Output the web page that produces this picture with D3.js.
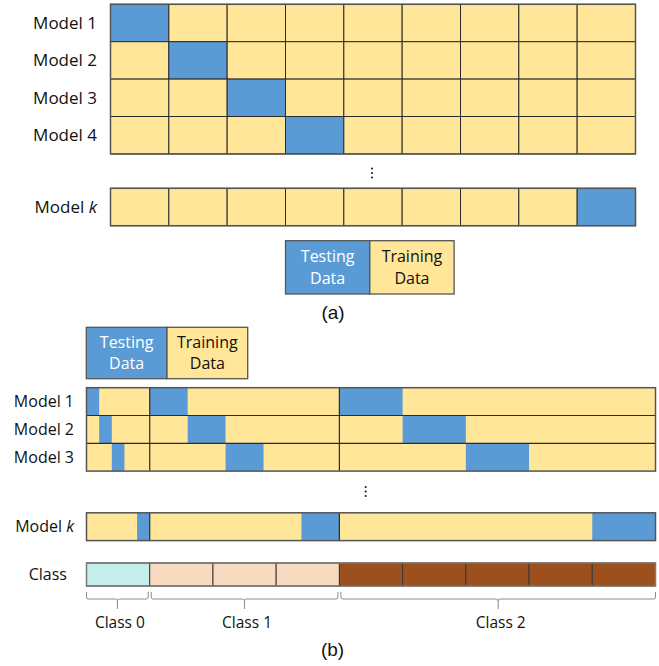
<!DOCTYPE html>
<html>
<head>
<meta charset="utf-8">
<script src="https://cdn.jsdelivr.net/npm/d3@7/dist/d3.min.js"></script>
<style>
  html, body { margin: 0; padding: 0; background: #fff; }
  svg { display: block; }
</style>
</head>
<body>
<svg id="chart" width="659" height="666"></svg>
<script>
// ---- (a) plain k-fold cross-validation ----
const foldsA = d3.range(9);                       // 9 equal folds
const modelsA = ["Model 1", "Model 2", "Model 3", "Model 4", "Model k"];
const testFoldA = [0, 1, 2, 3, 8];                // fold held out by each model

// ---- (b) stratified k-fold cross-validation ----
const classNames = ["Class 0", "Class 1", "Class 2"];
const classSizes = [1, 3, 5];                     // relative size of each class
const foldsPerClass = 5;                          // each class is split into 5 folds
const modelsB = ["Model 1", "Model 2", "Model 3", "Model k"];
const testFoldB = [0, 1, 2, 4];

const legendItems = [
  { name: ["Testing", "Data"], key: "test" },
  { name: ["Training", "Data"], key: "train" }
];

const colors = {
  test: "#5B9BD5",
  train: "#FFE699",
  classes: ["#C6EEEA", "#F8DAC0", "#9E4F1E"]
};
const FONT = "'Open Sans', 'DejaVu Sans', sans-serif";
const gridStroke = "#2b2b2b";
const borderStroke = "#555555";

const svg = d3.select("#chart");

// ================= Part (a) =================
const xA = d3.scaleBand().domain(foldsA).range([110.5, 635.5]).paddingInner(0).paddingOuter(0);
// row slot index -> y; the last model sits after a gap
const rowSlotA = i => (i < modelsA.length - 1 ? i : i + 0.92);
const rowH_A = 37.4;
const yA = d3.scaleLinear().domain([0, 1]).range([4.3, 4.3 + rowH_A]);

const gA = svg.append("g");
modelsA.forEach((m, i) => {
  const y0 = yA(rowSlotA(i));
  const row = gA.append("g");
  row.selectAll("rect")
    .data(foldsA)
    .join("rect")
    .attr("x", d => xA(d))
    .attr("y", y0)
    .attr("width", xA.bandwidth())
    .attr("height", rowH_A)
    .attr("fill", d => (d === testFoldA[i] ? colors.test : colors.train))
    .attr("stroke", gridStroke)
    .attr("stroke-width", 1);
  const label = row.append("text")
    .attr("x", 97)
    .attr("y", y0 + rowH_A / 2)
    .attr("dy", "0.35em")
    .attr("text-anchor", "end")
    .attr("font-family", FONT)
    .attr("font-size", 17)
    .attr("fill", "#111");
  const parts = m.split(" ");
  label.append("tspan").text(parts[0] + " ");
  label.append("tspan").text(parts[1]).attr("font-style", parts[1] === "k" ? "italic" : "normal");
});
// outer borders
gA.append("rect")
  .attr("x", xA.range()[0]).attr("y", yA(0))
  .attr("width", xA.range()[1] - xA.range()[0]).attr("height", rowH_A * 4)
  .attr("fill", "none").attr("stroke", borderStroke).attr("stroke-width", 1.5);
gA.append("rect")
  .attr("x", xA.range()[0]).attr("y", yA(rowSlotA(4)))
  .attr("width", xA.range()[1] - xA.range()[0]).attr("height", rowH_A)
  .attr("fill", "none").attr("stroke", borderStroke).attr("stroke-width", 1.5);

// vertical ellipsis
function ellipsis(g, x, y) {
  [0, 4.5, 9].forEach(dy => {
    g.append("circle").attr("cx", x).attr("cy", y + dy).attr("r", 1.1).attr("fill", "#222");
  });
}
ellipsis(gA, 372, 168.5);

// legend
function legend(g, x0, y0, w, h, fontSize) {
  legendItems.forEach((it, i) => {
    const x = x0 + i * w;
    g.append("rect").attr("x", x).attr("y", y0).attr("width", w).attr("height", h)
      .attr("fill", colors[it.key]).attr("stroke", borderStroke).attr("stroke-width", 1.3);
    it.name.forEach((line, j) => {
      g.append("text")
        .attr("x", x + w / 2)
        .attr("y", y0 + h * (j === 0 ? 0.3 : 0.71))
        .attr("dy", "0.35em")
        .attr("text-anchor", "middle")
        .attr("font-family", FONT)
        .attr("font-size", fontSize)
        .attr("fill", it.key === "test" ? "#ffffff" : "#111")
        .text(line);
    });
  });
}
legend(gA, 285.5, 240.7, 84.3, 53.3, 16);

svg.append("text")
  .attr("x", 333).attr("y", 319)
  .attr("text-anchor", "middle")
  .attr("font-family", "'Liberation Sans', Arial, sans-serif")
  .attr("font-size", 19)
  .attr("fill", "#111")
  .text("(a)");

// ================= Part (b) =================
const gB = svg.append("g");
legend(gB, 86.3, 327.3, 80.7, 51.4, 16);

const totalUnits = d3.sum(classSizes);
const xB = d3.scaleLinear().domain([0, totalUnits]).range([86.5, 655.5]);
const classStart = classSizes.map((s, i) => d3.sum(classSizes.slice(0, i)));
const rowH_B = 27.8;
const rowSlotB = i => (i < modelsB.length - 1 ? i : i + 1.5);
const yB = d3.scaleLinear().domain([0, 1]).range([387.7, 387.7 + rowH_B]);

modelsB.forEach((m, i) => {
  const y0 = yB(rowSlotB(i));
  const row = gB.append("g");
  row.append("rect")
    .attr("x", xB(0)).attr("y", y0)
    .attr("width", xB(totalUnits) - xB(0)).attr("height", rowH_B)
    .attr("fill", colors.train);
  // held-out slice of every class (stratified)
  row.selectAll("rect.test")
    .data(classSizes.map((s, c) => ({
      start: classStart[c] + s * testFoldB[i] / foldsPerClass,
      size: s / foldsPerClass
    })))
    .join("rect")
    .attr("class", "test")
    .attr("x", d => xB(d.start))
    .attr("y", y0)
    .attr("width", d => xB(d.start + d.size) - xB(d.start))
    .attr("height", rowH_B)
    .attr("fill", colors.test);
  // class boundaries
  row.selectAll("line.cb")
    .data(classStart.slice(1))
    .join("line")
    .attr("class", "cb")
    .attr("x1", d => xB(d)).attr("x2", d => xB(d))
    .attr("y1", y0).attr("y2", y0 + rowH_B)
    .attr("stroke", gridStroke).attr("stroke-width", 1.2);
  if (i > 0 && i < modelsB.length - 1) {
    row.append("line")
      .attr("x1", xB(0)).attr("x2", xB(totalUnits))
      .attr("y1", y0).attr("y2", y0)
      .attr("stroke", gridStroke).attr("stroke-width", 1.2);
  }
  const label = row.append("text")
    .attr("x", 74)
    .attr("y", y0 + rowH_B / 2)
    .attr("dy", "0.35em")
    .attr("text-anchor", "end")
    .attr("font-family", FONT)
    .attr("font-size", 16)
    .attr("fill", "#111");
  const parts = m.split(" ");
  label.append("tspan").text(parts[0] + " ");
  label.append("tspan").text(parts[1]).attr("font-style", parts[1] === "k" ? "italic" : "normal");
});
gB.append("rect")
  .attr("x", xB(0)).attr("y", yB(0))
  .attr("width", xB(totalUnits) - xB(0)).attr("height", rowH_B * 3)
  .attr("fill", "none").attr("stroke", borderStroke).attr("stroke-width", 1.5);
gB.append("rect")
  .attr("x", xB(0)).attr("y", yB(rowSlotB(3)))
  .attr("width", xB(totalUnits) - xB(0)).attr("height", rowH_B)
  .attr("fill", "none").attr("stroke", borderStroke).attr("stroke-width", 1.5);

ellipsis(gB, 365.7, 487);

// class bar: one equal segment per unit of class size
const classY = 563, classH = 23;
const segs = [];
classSizes.forEach((s, c) => d3.range(s).forEach(k => segs.push({ c, u: classStart[c] + k })));
gB.selectAll("rect.seg")
  .data(segs)
  .join("rect")
  .attr("class", "seg")
  .attr("x", d => xB(d.u))
  .attr("y", classY)
  .attr("width", xB(1) - xB(0))
  .attr("height", classH)
  .attr("fill", d => colors.classes[d.c])
  .attr("stroke", "#3a3a3a")
  .attr("stroke-width", 1);
gB.append("rect")
  .attr("x", xB(0)).attr("y", classY)
  .attr("width", xB(totalUnits) - xB(0)).attr("height", classH)
  .attr("fill", "none").attr("stroke", "#7a7a7a").attr("stroke-width", 1.5);
gB.append("text")
  .attr("x", 67).attr("y", classY + classH / 2)
  .attr("dy", "0.35em")
  .attr("text-anchor", "end")
  .attr("font-family", FONT).attr("font-size", 16).attr("fill", "#111")
  .text("Class");

// curly braces under each class
function brace(x0, x1, y0) {
  const p = d3.path();
  const mid = (x0 + x1) / 2, yb = y0 + 7, tip = y0 + 17, r = 2;
  p.moveTo(x0, y0);
  p.lineTo(x0, yb - r);
  p.quadraticCurveTo(x0, yb, x0 + r, yb);
  p.lineTo(mid - r, yb);
  p.quadraticCurveTo(mid, yb, mid, yb + r);
  p.lineTo(mid, tip);
  p.moveTo(mid, yb + r);
  p.quadraticCurveTo(mid, yb, mid + r, yb);
  p.lineTo(x1 - r, yb);
  p.quadraticCurveTo(x1, yb, x1, yb - r);
  p.lineTo(x1, y0);
  return p.toString();
}
classNames.forEach((name, c) => {
  const x0 = xB(classStart[c]) + (c > 0 ? 1.5 : 0);
  const x1 = xB(classStart[c] + classSizes[c]) - (c < classNames.length - 1 ? 1.5 : 0);
  gB.append("path")
    .attr("d", brace(x0, x1, 592))
    .attr("fill", "none")
    .attr("stroke", "#8a8a8a")
    .attr("stroke-width", 1);
  gB.append("text")
    .attr("x", (x0 + x1) / 2 + 2.5)
    .attr("y", 623)
    .attr("dy", "0.35em")
    .attr("text-anchor", "middle")
    .attr("font-family", FONT).attr("font-size", 15.5).attr("fill", "#111")
    .text(name);
});

svg.append("text")
  .attr("x", 332.5).attr("y", 656)
  .attr("text-anchor", "middle")
  .attr("font-family", "'Liberation Sans', Arial, sans-serif")
  .attr("font-size", 19)
  .attr("fill", "#111")
  .text("(b)");
</script>
</body>
</html>
